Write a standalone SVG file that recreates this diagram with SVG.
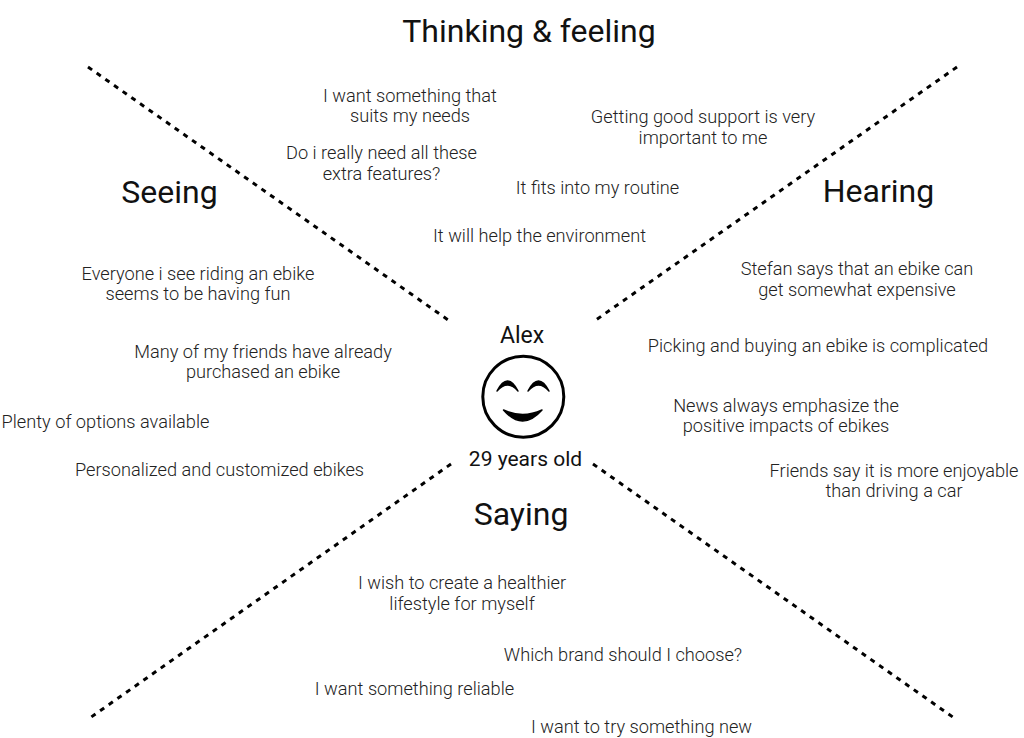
<svg xmlns="http://www.w3.org/2000/svg" width="1024" height="738" viewBox="0 0 1024 738">
<style>
.h{font-family:Roboto,"Liberation Sans",sans-serif;font-size:32px;fill:#111;text-anchor:middle}
.t{font-family:Roboto,"Liberation Sans",sans-serif;font-weight:300;font-size:18.2px;fill:#222;text-anchor:middle}
.n{font-family:Roboto,"Liberation Sans",sans-serif;font-size:23px;fill:#111;text-anchor:middle}
.d{stroke:#000;stroke-width:3;stroke-dasharray:5 5.6;fill:none}
</style>
<rect width="1024" height="738" fill="#fff"/>
<g id="connectors">
<line class="d" x1="88" y1="67" x2="451" y2="322"/>
<line class="d" x1="957" y1="67" x2="593" y2="322"/>
<line class="d" x1="451" y1="464" x2="87" y2="720"/>
<line class="d" x1="593" y1="464" x2="957" y2="720"/>
</g>
<g id="center">
<text class="n" x="522" y="343">Alex</text>
<circle cx="523.3" cy="396.7" r="40.5" fill="none" stroke="#000" stroke-width="3"/>
<path d="M497,391 Q507.5,371 518,391 Q507.5,379 497,391 Z" fill="#000" stroke="#000" stroke-width="1.5" stroke-linejoin="round"/>
<path d="M528,391 Q538.5,371 549,391 Q538.5,379 528,391 Z" fill="#000" stroke="#000" stroke-width="1.5" stroke-linejoin="round"/>
<path d="M503.5,410 Q522.5,432 542,410 Q522.5,419 503.5,410 Z" fill="#000" stroke="#000" stroke-width="1.5" stroke-linejoin="round"/>
<text class="n" x="525.5" y="466" style="font-size:21px">29 years old</text>
</g>
<g id="thinking">
<text class="h" x="529" y="42">Thinking &amp; feeling</text>
<text class="t" x="410" y="102">I want something that</text>
<text class="t" x="410" y="122">suits my needs</text>
<text class="t" x="381.5" y="159">Do i really need all these</text>
<text class="t" x="381.5" y="180">extra features?</text>
<text class="t" x="703" y="123">Getting good support is very</text>
<text class="t" x="703" y="144">important to me</text>
<text class="t" x="597.5" y="194">It fits into my routine</text>
<text class="t" x="539.5" y="242">It will help the environment</text>
</g>
<g id="seeing">
<text class="h" x="169.5" y="203">Seeing</text>
<text class="t" x="198" y="280">Everyone i see riding an ebike</text>
<text class="t" x="198" y="300">seems to be having fun</text>
<text class="t" x="263" y="358">Many of my friends have already</text>
<text class="t" x="263" y="378">purchased an ebike</text>
<text class="t" x="105.5" y="428">Plenty of options available</text>
<text class="t" x="219.5" y="476">Personalized and customized ebikes</text>
</g>
<g id="hearing">
<text class="h" x="878.5" y="202">Hearing</text>
<text class="t" x="857" y="275">Stefan says that an ebike can</text>
<text class="t" x="857" y="296">get somewhat expensive</text>
<text class="t" x="818" y="352">Picking and buying an ebike is complicated</text>
<text class="t" x="786" y="412">News always emphasize the</text>
<text class="t" x="786" y="432">positive impacts of ebikes</text>
<text class="t" x="894" y="477">Friends say it is more enjoyable</text>
<text class="t" x="894" y="497">than driving a car</text>
</g>
<g id="saying">
<text class="h" x="521" y="525">Saying</text>
<text class="t" x="462" y="589">I wish to create a healthier</text>
<text class="t" x="462" y="610">lifestyle for myself</text>
<text class="t" x="623" y="661">Which brand should I choose?</text>
<text class="t" x="414.5" y="695">I want something reliable</text>
<text class="t" x="641.5" y="733">I want to try something new</text>
</g>
</svg>
